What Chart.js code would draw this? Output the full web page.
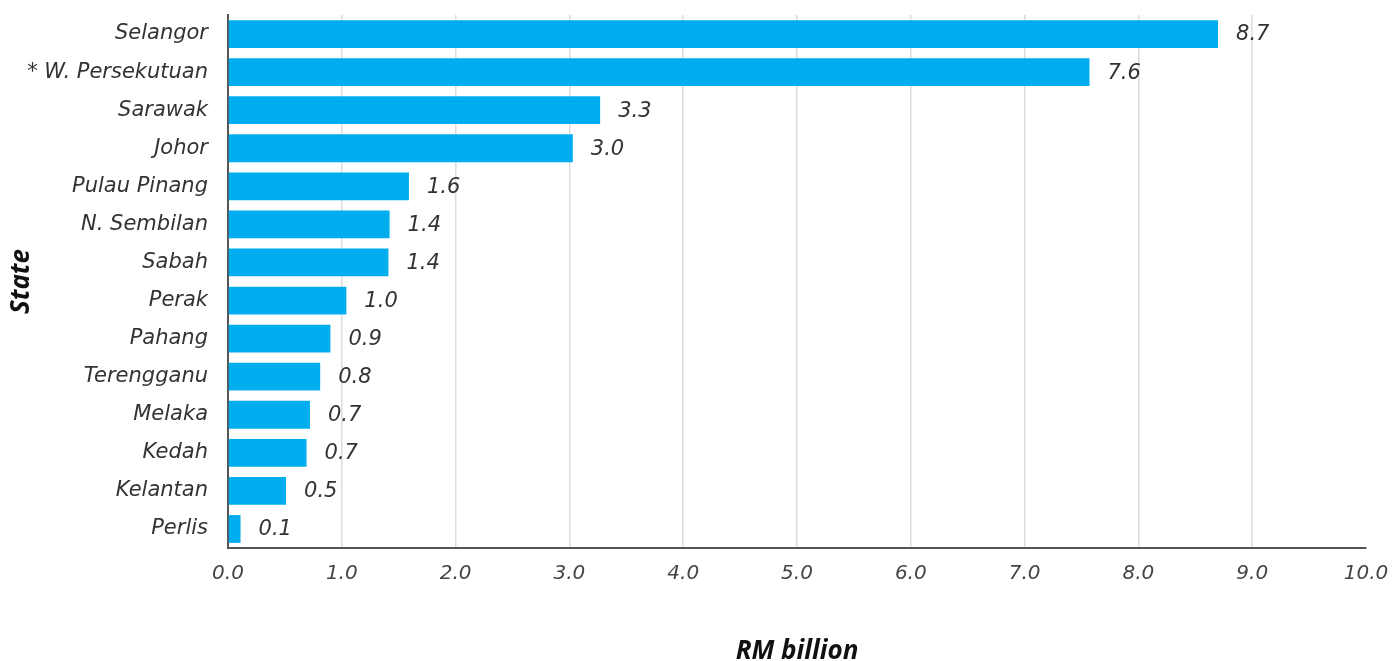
<!DOCTYPE html>
<html>
<head>
<meta charset="utf-8">
<script src="https://cdn.jsdelivr.net/npm/chart.js@4/dist/chart.umd.min.js"></script>
<style>
  html, body { margin: 0; padding: 0; background: #fff; }
  #wrap { width: 1396px; height: 661px; }
</style>
</head>
<body>
<div id="wrap"><canvas id="chart"></canvas></div>
<script>
const states = ["Selangor", "* W. Persekutuan", "Sarawak", "Johor", "Pulau Pinang", "N. Sembilan", "Sabah",
    "Perak", "Pahang", "Terengganu", "Melaka", "Kedah", "Kelantan", "Perlis"]
const values = [8.7, 7.57, 3.27, 3.03, 1.59, 1.42, 1.41, 1.04, 0.9, 0.81, 0.72, 0.69, 0.51, 0.11]
const xTicks = [0, 1, 2, 3, 4, 5, 6, 7, 8, 9, 10]

const labelFont = "italic 21px 'DejaVu Sans', sans-serif"

// value labels at the end of each bar
const barLabels = {
    id: "barLabels",
    afterDatasetsDraw(chart) {
        const ctx = chart.ctx
        const meta = chart.getDatasetMeta(0)
        ctx.save()
        ctx.font = labelFont
        ctx.fillStyle = "#333"
        ctx.textBaseline = "middle"
        ctx.textAlign = "left"
        meta.data.forEach((bar, i) => {
            ctx.fillText(values[i].toFixed(1), bar.x + 18, bar.y + 1)
        })
        ctx.restore()
    }
}

let ctx = document.getElementById("chart").getContext("2d")
let chart = new Chart(ctx, {
    type: "bar",
    data: {
        labels: states,
        datasets: [
            {
                label: "RM billion",
                data: values,
                backgroundColor: "#00aeef",
                barPercentage: 0.73,
                categoryPercentage: 1.0,
            }
        ],
    },
    plugins: [barLabels],
    options: {
        indexAxis: "y",
        responsive: true,
        maintainAspectRatio: false,
        animation: false,
        layout: {
            padding: {top: 15, right: 30, bottom: 0, left: 0}
        },
        scales: {
            x: {
                min: 0,
                max: 10,
                afterBuildTicks: (scale) => {
                    scale.ticks = xTicks.map(v => ({value: v}))
                },
                afterFit: (scale) => {
                    scale.height = 113
                    scale.paddingLeft = 0
                    scale.paddingRight = 0
                },
                border: {display: true, color: "#555", width: 2},
                grid: {
                    drawTicks: false,
                    lineWidth: 1.5,
                    color: (c) => (c.tick && (c.tick.value === 0 || c.tick.value === 10)) ? "rgba(0,0,0,0)" : "#dcdcdc",
                },
                ticks: {
                    padding: 14,
                    color: "#444",
                    font: {family: "'DejaVu Sans', sans-serif", size: 20, style: "italic"},
                    callback: (v) => Number(v).toFixed(1),
                },
                title: {
                    display: true,
                    text: "RM billion",
                    color: "#111",
                    padding: {top: 4, bottom: -6},
                    font: {family: "'Open Sans', sans-serif", size: 26, style: "italic", weight: "bold"},
                }
            },
            y: {
                afterFit: (scale) => {
                    scale.width = 228
                    scale.paddingTop = 0
                    scale.paddingBottom = 0
                },
                border: {display: true, color: "#555", width: 2},
                grid: {display: false, drawTicks: false},
                ticks: {
                    padding: 20,
                    color: "#333",
                    font: {family: "'DejaVu Sans', sans-serif", size: 21, style: "italic"},
                },
                title: {
                    display: true,
                    text: "State",
                    color: "#111",
                    padding: {top: 6, bottom: 0},
                    font: {family: "'Open Sans', sans-serif", size: 26, style: "italic", weight: "bold"},
                }
            }
        },
        plugins: {
            legend: {display: false},
            tooltip: {enabled: false},
        }
    }
})
</script>
</body>
</html>
